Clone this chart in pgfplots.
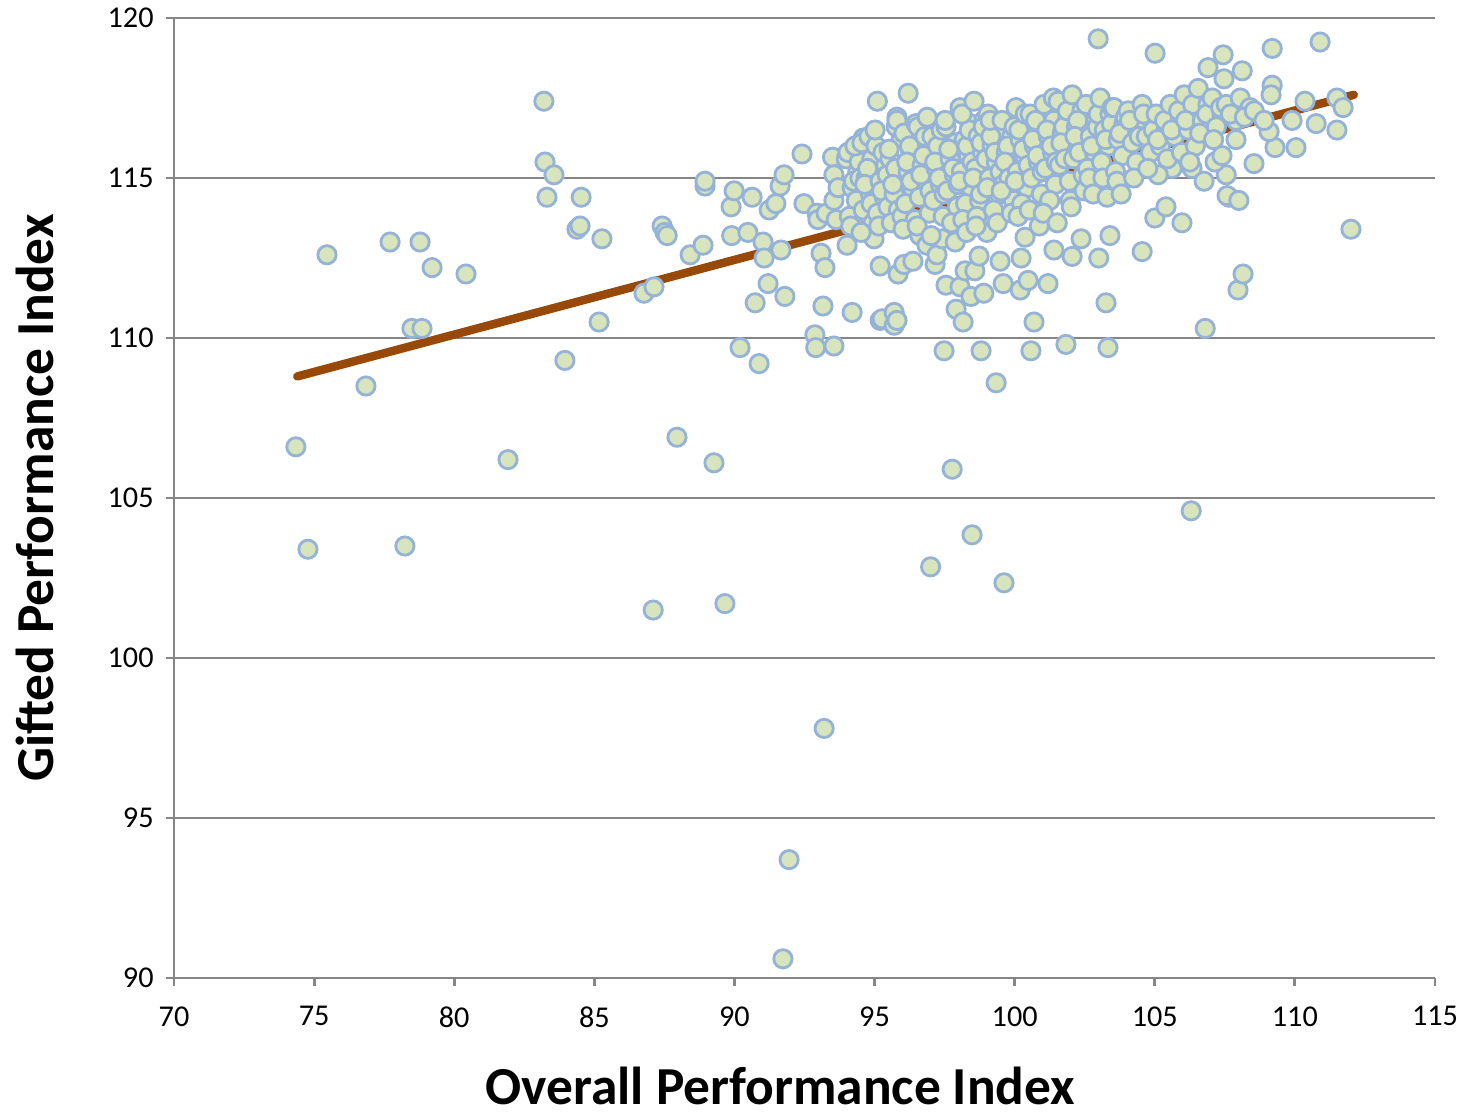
\documentclass[border=0pt]{standalone}
\usepackage{pgfplots}
\pgfplotsset{compat=1.18}
\usepackage{fontspec}
\setmainfont{Carlito}

\definecolor{ptfill}{HTML}{D7E4BD}
\definecolor{ptedge}{HTML}{95B3D7}
\definecolor{trend}{HTML}{984807}
\definecolor{axgray}{HTML}{868686}

\begin{document}
\begin{tikzpicture}
\path[use as bounding box] (-1.74,-1.38) rectangle (12.93,9.78);
\begin{axis}[
  scale only axis,
  width=12.61cm, height=9.6cm,
  xmin=70, xmax=115, ymin=90, ymax=120,
  xtick={70,75,...,115}, ytick={90,95,...,120},
  axis lines*=left,
  axis line style={axgray, line width=0.8pt},
  tick align=outside,
  major tick length=0.08cm,
  tick style={axgray, line width=0.8pt},
  ymajorgrids,
  grid style={axgray, line width=0.8pt},
  /pgf/number format/assume math mode=true,
  tick label style={font=\fontsize{8.6}{10}\selectfont},
  xticklabel style={yshift=-0.08cm},
  xlabel={Overall Performance Index},
  ylabel={Gifted Performance Index},
  label style={font=\fontsize{15.2}{18}\selectfont\bfseries},
  xlabel style={at={(axis description cs:0.481,-0.112)}, anchor=center},
  ylabel style={at={(axis description cs:-0.11,0.5)}, anchor=center},
  clip=false,
]
% outliers and sparse points
\addplot[only marks, mark=*, mark size=2.6pt,
  mark options={fill=ptfill, draw=ptedge, line width=0.8pt}] coordinates {
(74.35,106.6) (74.78,103.4) (75.46,112.6) (76.85,108.5) (77.71,113.0)
(78.24,103.5) (78.49,110.3) (78.85,110.3) (78.78,113.0) (79.21,112.2)
(80.42,112.0) (81.92,106.2) (83.2,117.4) (83.24,115.5) (83.31,114.4)
(83.56,115.1) (83.95,109.3) (84.38,113.4) (84.49,113.5) (84.53,114.4)
(85.17,110.5) (85.27,113.1) (86.77,111.4) (87.13,111.6) (87.1,101.5)
(87.42,113.5) (87.52,113.3) (87.6,113.2) (87.95,106.9) (88.42,112.6)
(88.88,112.9) (88.95,114.75) (88.95,114.9) (89.27,106.1) (89.66,101.7)
(89.88,114.1) (89.99,114.6) (89.9,113.2) (90.2,109.7) (90.48,113.3)
(90.63,114.4) (90.74,111.1) (90.88,109.2) (91.02,113.0) (91.06,112.5)
(91.2,111.7) (91.24,114.0) (91.48,114.2) (91.63,114.75) (91.66,112.75)
(91.77,115.1) (91.8,111.3) (91.73,90.6) (91.95,93.7) (92.41,115.75)
(92.48,114.2) (92.87,110.1) (92.9,109.7) (92.95,113.9) (92.98,113.7)
(93.09,112.65) (93.16,111.0) (93.2,97.8) (93.23,112.2) (93.27,113.9)
(93.55,109.75) (93.5,115.65) (93.55,115.1) (93.55,114.3) (93.63,113.7)
(93.7,114.7) (93.99,115.6) (94.02,112.9) (94.2,110.8) (94.3,113.9)
(94.5,115.9) (94.6,116.25) (94.98,113.1) (95.1,117.4) (95.2,112.25)
(95.2,110.55) (95.27,110.6) (95.7,110.8) (95.7,110.4) (95.8,110.55)
(95.8,116.9) (95.77,116.6) (95.87,113.9) (95.84,112.0) (96.2,117.65)
(96.05,112.3) (96.37,112.4) (96.27,115.9) (96.62,113.2) (96.87,112.9)
(97.0,102.85) (97.16,112.3) (97.23,112.6) (97.48,109.6) (97.55,111.65)
(97.41,113.1) (97.77,105.9) (97.91,110.9) (98.05,111.6) (98.16,110.5)
(98.23,112.1) (98.44,111.3) (98.48,103.85) (98.58,112.1) (98.73,112.56)
(98.8,109.6) (98.9,111.4) (99.01,113.3) (99.23,113.75) (99.34,108.6)
(99.48,112.4) (99.59,111.7) (99.62,102.35) (100.23,112.5) (100.2,111.5)
(100.37,113.15) (100.48,111.8) (100.58,109.6) (100.69,110.5) (101.19,111.7)
(101.4,112.75) (101.83,109.8) (102.05,112.55) (102.37,113.1) (103.0,112.5)
(103.26,111.1) (103.33,109.7) (103.4,113.2) (104.55,112.7) (105.0,113.75)
(105.4,114.1) (105.97,113.6) (106.3,104.6) (106.8,110.3) (107.97,111.5)
(108.15,112.0) (112.0,113.4) (102.98,119.35) (105.01,118.9) (110.9,119.25)
(109.19,119.05) (107.44,118.85) (106.9,118.45) (107.47,118.1) (108.12,118.35)
(109.19,117.9) (110.36,117.4) (111.5,117.5) (111.72,117.2) (111.5,116.5)
(110.76,116.7) (110.04,115.95) (109.29,115.95) (109.9,116.8) (109.08,116.45)
(108.54,115.45) (107.65,114.4) (107.58,114.45) (108.0,114.3) (107.55,115.1)
(107.15,115.5) (107.4,115.7) (107.9,116.2) (106.33,115.3) (106.76,114.9)
(105.62,115.3) (105.12,115.1)
};
% dense cluster
\addplot[only marks, mark=*, mark size=2.6pt,
  mark options={fill=ptfill, draw=ptedge, line width=0.8pt}] coordinates {
(94.05,115.8) (94.4,115.2) (94.2,114.7) (94.35,114.3) (94.1,113.8) (94.45,115.5) (94.25,114.9) (94.15,113.5) (94.3,116.0) (94.48,115.0)
(94.55,116.1) (94.9,115.6) (94.7,115.0) (94.85,114.5) (94.6,114.0) (94.95,113.6) (94.75,115.3) (94.65,114.8) (94.8,116.3) (94.52,113.3) (94.88,114.2)
(95.05,116.0) (95.4,115.4) (95.2,114.9) (95.35,114.4) (95.1,113.9) (95.45,115.1) (95.25,114.6) (95.15,113.5) (95.3,115.8) (95.48,114.1) (95.02,116.5)
(95.55,115.6) (95.9,115.0) (95.7,114.5) (95.85,114.0) (95.6,113.6) (95.95,116.2) (95.75,115.3) (95.65,114.8) (95.8,116.8) (95.98,113.8) (95.52,115.9)
(96.05,116.4) (96.4,115.8) (96.2,115.2) (96.35,114.7) (96.1,114.2) (96.45,113.7) (96.25,116.0) (96.15,115.5) (96.3,114.9) (96.48,116.7) (96.02,113.4)
(96.55,116.6) (96.9,116.0) (96.7,115.4) (96.85,114.9) (96.6,114.4) (96.95,113.9) (96.75,115.7) (96.65,115.1) (96.8,116.3) (96.98,114.6) (96.52,113.5) (96.88,116.9)
(97.05,116.3) (97.4,115.8) (97.2,115.3) (97.35,114.8) (97.1,114.3) (97.45,113.8) (97.25,116.0) (97.15,115.5) (97.3,115.0) (97.48,114.5) (97.02,113.2) (97.38,116.5)
(97.55,116.6) (97.9,116.1) (97.7,115.6) (97.85,115.1) (97.6,114.6) (97.95,114.1) (97.75,113.6) (97.65,115.9) (97.8,115.3) (97.98,114.8) (97.52,116.8) (97.88,113.0)
(98.05,117.2) (98.4,116.7) (98.2,116.2) (98.35,115.7) (98.1,115.2) (98.45,114.7) (98.25,114.2) (98.15,113.7) (98.3,116.0) (98.48,115.5) (98.02,114.9) (98.38,116.5) (98.12,117.0) (98.28,113.3)
(98.55,117.4) (98.9,116.8) (98.7,116.3) (98.85,115.8) (98.6,115.3) (98.95,114.8) (98.75,114.3) (98.65,113.8) (98.8,116.1) (98.98,115.6) (98.52,115.0) (98.88,116.6) (98.62,113.5) (98.78,114.5)
(99.05,117.0) (99.4,116.5) (99.2,116.0) (99.35,115.5) (99.1,115.0) (99.45,114.5) (99.25,114.0) (99.15,116.3) (99.3,115.8) (99.48,115.2) (99.02,114.7) (99.38,113.6) (99.12,116.8)
(99.55,116.8) (99.9,116.3) (99.7,115.8) (99.85,115.3) (99.6,114.8) (99.95,114.3) (99.75,116.0) (99.65,115.5) (99.8,115.0) (99.98,116.6) (99.52,114.6) (99.88,113.9)
(100.05,117.2) (100.4,116.7) (100.2,116.2) (100.35,115.7) (100.1,115.2) (100.45,114.7) (100.25,114.2) (100.15,116.5) (100.3,115.9) (100.48,115.4) (100.02,114.9) (100.38,117.0) (100.12,113.8)
(100.55,117.0) (100.9,116.5) (100.7,116.0) (100.85,115.5) (100.6,115.0) (100.95,114.5) (100.75,116.8) (100.65,116.2) (100.8,115.7) (100.98,115.2) (100.52,114.0) (100.88,113.5)
(101.05,117.3) (101.4,116.8) (101.2,116.3) (101.35,115.8) (101.1,115.3) (101.45,114.8) (101.25,114.3) (101.15,116.5) (101.3,116.0) (101.48,115.5) (101.02,113.9) (101.38,117.5)
(101.55,117.4) (101.9,116.9) (101.7,116.4) (101.85,115.9) (101.6,115.4) (101.95,114.9) (101.75,116.6) (101.65,116.1) (101.8,115.6) (101.98,114.3) (101.52,113.6) (101.88,117.1)
(102.05,117.6) (102.4,117.1) (102.2,116.6) (102.35,116.1) (102.1,115.6) (102.45,115.1) (102.25,116.8) (102.15,116.3) (102.3,115.8) (102.48,114.6) (102.02,114.1)
(102.55,117.3) (102.9,116.8) (102.7,116.3) (102.85,115.8) (102.6,115.3) (102.95,116.6) (102.75,116.0) (102.65,115.0) (102.8,114.5) (102.98,117.0)
(103.05,117.5) (103.4,117.0) (103.2,116.5) (103.35,116.0) (103.1,115.5) (103.45,116.7) (103.25,116.2) (103.15,115.0) (103.3,114.4) (103.48,117.2)
(103.55,117.2) (103.9,116.7) (103.7,116.2) (103.85,115.7) (103.6,115.2) (103.95,116.9) (103.75,116.4) (103.65,114.9) (103.8,114.5)
(104.05,117.1) (104.4,116.6) (104.2,116.1) (104.35,115.5) (104.1,116.8) (104.45,116.3) (104.25,115.0)
(104.55,117.3) (104.9,116.8) (104.7,116.3) (104.85,115.8) (104.6,117.0) (104.95,116.5) (104.75,115.3)
(105.05,117.0) (105.4,116.5) (105.2,116.0) (105.35,116.8) (105.1,116.2) (105.45,115.6)
(105.55,117.3) (105.9,116.8) (105.7,116.3) (105.85,117.1) (105.6,116.5) (105.95,115.8)
(106.05,117.6) (106.4,117.0) (106.2,116.5) (106.35,117.3) (106.1,116.8) (106.45,116.0) (106.25,115.5)
(106.55,117.8) (106.9,117.3) (106.7,116.8) (106.85,117.0) (106.6,116.4)
(107.05,117.5) (107.4,117.0) (107.2,116.6) (107.35,117.2) (107.1,116.2)
(107.55,117.3) (107.9,116.8) (107.7,117.0)
(108.05,117.5) (108.4,117.2) (108.2,116.9)
(108.55,117.1) (108.9,116.8)
(109.15,117.6)
};
% trend line
\addplot[trend, line width=2.4pt, line cap=round] coordinates {(74.4,108.8) (112.1,117.6)};
\end{axis}
\end{tikzpicture}
\end{document}
